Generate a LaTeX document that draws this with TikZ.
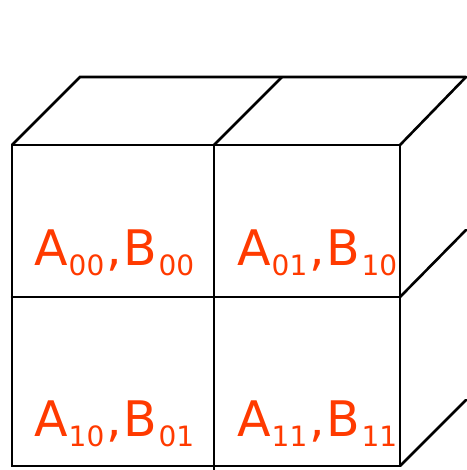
\documentclass[tikz,border=0pt]{standalone}
\usepackage{fontspec}
\setmainfont{DejaVu Sans}
\definecolor{labelred}{RGB}{255,58,0}
\tikzset{
  edge/.style={line width=2.6pt, line cap=round, line join=miter},
  lbl/.style={anchor=base west, inner sep=0pt, text=labelred},
}
\newcommand{\bigA}[1]{{\fontsize{49}{49}\selectfont #1}}
\newcommand{\subn}[1]{\raisebox{-10pt}{\fontsize{28}{28}\selectfont #1}}
\newcommand{\pairlbl}[4]{\bigA{#1}\kern1pt\subn{#2}\kern2pt\bigA{,}\kern2pt\bigA{#3}\kern1pt\subn{#4}}
\begin{document}
\begin{tikzpicture}[x=1pt,y=-1pt]
\useasboundingbox (0,0) rectangle (466,470);
% front face
\coordinate (ftl) at (12,145);
\coordinate (ftm) at (214,145);
\coordinate (ftr) at (400,145);
\coordinate (fml) at (12,297);
\coordinate (fmr) at (400,297);
\coordinate (fbl) at (12,466);
\coordinate (fbm) at (214,466);
\coordinate (fbr) at (400,466);
\coordinate (fbmx) at (214,472);
% back top
\coordinate (btl) at (80,77);
\coordinate (btm) at (282,77);
\coordinate (btr) at (466,77);
% right side
\coordinate (rm) at (466,230);
\coordinate (rb) at (466,400);
\draw[edge] (ftl) -- (ftr) -- (fbr) -- (fbl) -- cycle;
\draw[edge] (ftm) -- (fbmx);
\draw[edge] (fml) -- (fmr);
\draw[edge] (ftl) -- (btl) -- (btr);
\draw[edge] (ftm) -- (btm);
\draw[edge] (ftr) -- (btr);
\draw[edge] (fmr) -- (rm);
\draw[edge] (fbr) -- (rb);
% labels
\node[lbl] (l00) at (34,265) {\pairlbl{A}{00}{B}{00}};
\node[lbl] (l01) at (237,265) {\pairlbl{A}{01}{B}{10}};
\node[lbl] (l10) at (34,436) {\pairlbl{A}{10}{B}{01}};
\node[lbl] (l11) at (237,436) {\pairlbl{A}{11}{B}{11}};
\end{tikzpicture}
\end{document}
